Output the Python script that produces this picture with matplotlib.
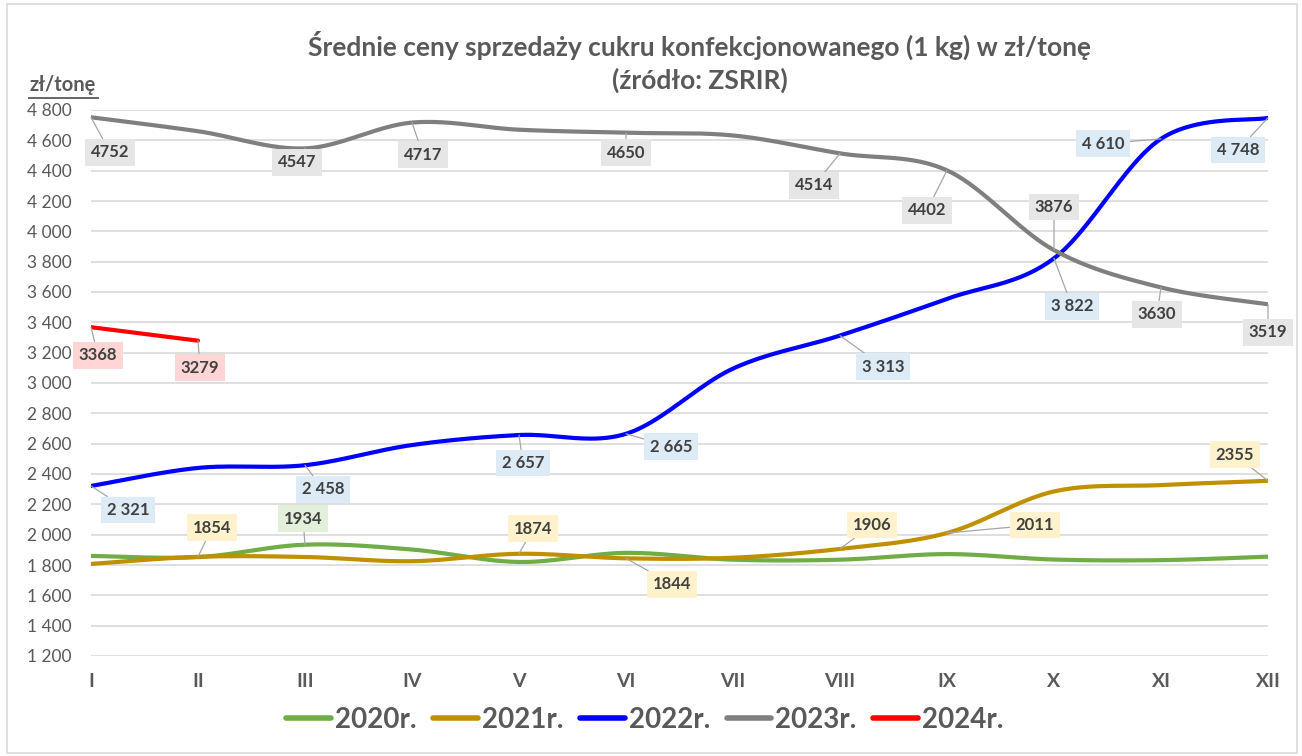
import numpy as np
import matplotlib
matplotlib.use("Agg")
import matplotlib.pyplot as plt
from matplotlib.lines import Line2D
from matplotlib.patches import Rectangle

plt.rcParams["font.family"] = ["Lato", "DejaVu Sans"]

# Dane
months = ["I", "II", "III", "IV", "V", "VI", "VII", "VIII", "IX", "X", "XI", "XII"]
y2020 = [1860, 1852, 1934, 1902, 1820, 1880, 1835, 1835, 1872, 1836, 1832, 1855]
y2021 = [1807, 1854, 1853, 1825, 1874, 1844, 1848, 1906, 2011, 2285, 2327, 2355]
y2022 = [2321, 2440, 2458, 2591, 2657, 2665, 3095, 3313, 3555, 3822, 4610, 4748]
y2023 = [4752, 4660, 4547, 4717, 4670, 4650, 4632, 4514, 4402, 3876, 3630, 3519]
y2024 = [3368, 3279]

series = [
    ("2020r.", y2020, "#70AD47", "#E2EFDA", False),
    ("2021r.", y2021, "#BF9000", "#FFF2CC", False),
    ("2022r.", y2022, "#0000FF", "#DDEBF7", True),
    ("2023r.", y2023, "#7F7F7F", "#E7E6E6", False),
    ("2024r.", y2024, "#FF0000", "#FFD5D5", False),
]

# etykiety: indeks miesiaca -> przesuniecie (px w prawo, px w dol)
label_pos = {
    "2020r.": {2: (-2, -26)},
    "2021r.": {1: (14, -29), 4: (14, -25), 5: (46, 26), 7: (32, -24),
               8: (88, -8), 11: (-33, -26)},
    "2022r.": {0: (37, 24), 2: (18, 24), 4: (4, 28), 5: (45, 13),
               7: (43, 31), 9: (18, 48), 10: (-58, 5), 11: (-30, 32)},
    "2023r.": {0: (19, 35), 2: (-8, 14), 3: (11, 32), 5: (0, 20),
               7: (-26, 32), 8: (-20, 40), 9: (0, -43), 10: (-4, 27),
               11: (0, 28)},
    "2024r.": {0: (7, 28), 1: (2, 27)},
}


def smooth(xs, ys, n=40):
    # wygładzenie w stylu Excela (Catmull-Rom / Bezier)
    xs = np.asarray(xs, float)
    ys = np.asarray(ys, float)
    if len(xs) < 3:
        return xs, ys
    ox, oy = [], []
    t = np.linspace(0, 1, n)
    m = len(xs)
    for i in range(m - 1):
        i0, i3 = max(i - 1, 0), min(i + 2, m - 1)
        c1x = xs[i] + (xs[i + 1] - xs[i0]) / 6
        c1y = ys[i] + (ys[i + 1] - ys[i0]) / 6
        c2x = xs[i + 1] - (xs[i3] - xs[i]) / 6
        c2y = ys[i + 1] - (ys[i3] - ys[i]) / 6
        bx = (1 - t) ** 3 * xs[i] + 3 * (1 - t) ** 2 * t * c1x + 3 * (1 - t) * t ** 2 * c2x + t ** 3 * xs[i + 1]
        by = (1 - t) ** 3 * ys[i] + 3 * (1 - t) ** 2 * t * c1y + 3 * (1 - t) * t ** 2 * c2y + t ** 3 * ys[i + 1]
        ox.extend(bx)
        oy.extend(by)
    return np.array(ox), np.array(oy)


def fmt(v, spaced):
    return f"{v:,}".replace(",", " ") if spaced else str(v)


W, H = 1302, 756
fig = plt.figure(figsize=(W / 100, H / 100), dpi=100)
ax = fig.add_axes([91 / W, 1 - 656 / H, (1268 - 91) / W, (656 - 110) / H])

gray_txt = "#595959"
handles = []
for name, vals, col, bg, spaced in series:
    x = np.arange(len(vals))
    sx, sy = smooth(x, vals)
    ax.plot(sx, sy, color=col, lw=3.0, solid_capstyle="round", zorder=3)
    handles.append(Line2D([0], [0], color=col, lw=4, solid_capstyle="round"))
    for i, (dx, dy) in label_pos[name].items():
        ax.annotate(fmt(vals[i], spaced), xy=(i, vals[i]), xytext=(dx * 0.72, -dy * 0.72),
                    textcoords="offset points", ha="center", va="center",
                    fontsize=12, fontweight="bold", color="#404040", zorder=5,
                    bbox=dict(boxstyle="square,pad=0.32", fc=bg, ec="none"),
                    arrowprops=dict(arrowstyle="-", color="#A6A6A6", lw=0.9,
                                    shrinkA=0, shrinkB=0))

ax.set_xlim(0, 11)
ax.set_ylim(1200, 4800)
ax.set_xticks(range(12))
ax.set_xticklabels(months, fontsize=14, fontweight="bold", color=gray_txt)
yt = np.arange(1200, 4801, 200)
ax.set_yticks(yt)
ax.set_yticklabels([f"{v:,}".replace(",", " ") for v in yt], fontsize=12.5, color=gray_txt)
ax.tick_params(length=0, axis="x", pad=12)
ax.tick_params(length=0, axis="y", pad=14)
ax.grid(axis="y", color="#D9D9D9", lw=1.2)
ax.set_axisbelow(True)
for s in ax.spines.values():
    s.set_visible(False)

fig.text(700 / W, 1 - 45 / H, "Średnie ceny sprzedaży cukru konfekcjonowanego (1 kg) w zł/tonę",
         ha="center", va="center", fontsize=19, fontweight="bold", color=gray_txt)
fig.text(700 / W, 1 - 80 / H, "(źródło: ZSRIR)",
         ha="center", va="center", fontsize=19, fontweight="bold", color=gray_txt)

fig.text(29 / W, 1 - 85 / H, "zł/tonę", ha="left", va="center",
         fontsize=14.5, fontweight="bold", color=gray_txt)
fig.add_artist(Line2D([29 / W, 98 / W], [1 - 98 / H, 1 - 98 / H], color=gray_txt, lw=1.3))

fig.legend(handles, [s[0] for s in series], loc="center", bbox_to_anchor=(645 / W, 1 - 720 / H),
           ncol=5, frameon=False, handlelength=1.6, handletextpad=0.15, columnspacing=0.6,
           prop=dict(size=20, weight="bold"), labelcolor=gray_txt)

fig.add_artist(Rectangle((7 / W, 3 / H), (1297 - 7) / W, (752 - 3) / H, transform=fig.transFigure,
                         fill=False, ec="#D9D9D9", lw=1.2))

fig.savefig("out.png", dpi=100, facecolor="white")
